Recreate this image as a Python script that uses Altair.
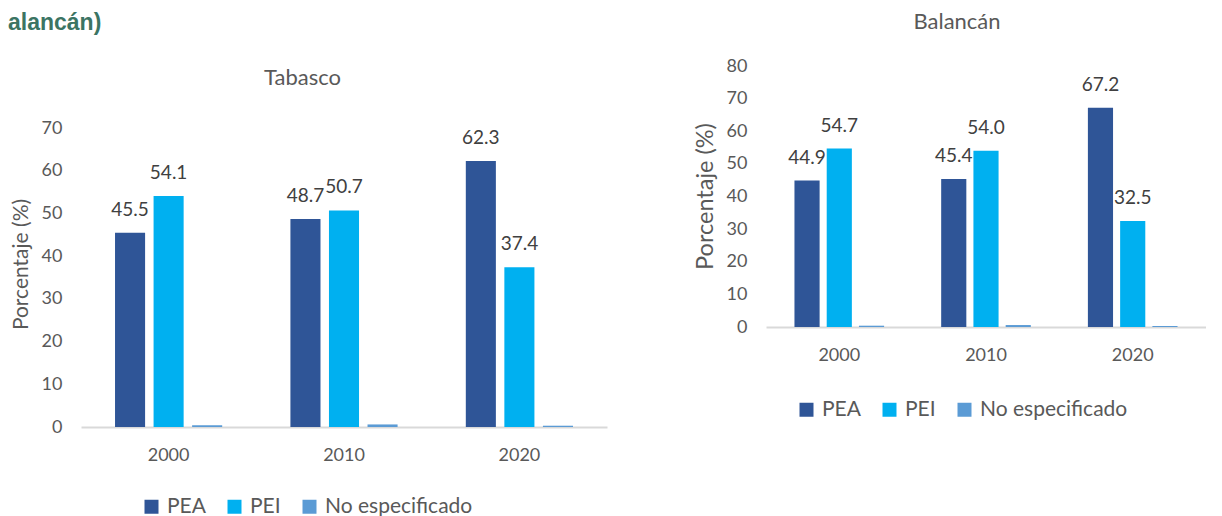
import altair as alt
import pandas as pd

years = ["2000", "2010", "2020"]
series = ["PEA", "PEI", "No especificado"]
colors = ["#2F5597", "#00B0F0", "#5B9BD5"]

tabasco_pea = [45.5, 48.7, 62.3]
tabasco_pei = [54.1, 50.7, 37.4]
tabasco_ne = [0.4, 0.6, 0.3]

balancan_pea = [44.9, 45.4, 67.2]
balancan_pei = [54.7, 54.0, 32.5]
balancan_ne = [0.4, 0.6, 0.3]

heading = "alancán)"
y_title = "Porcentaje (%)"

FONT = "Lato"
GRAY = "#595959"


def make_df(pea, pei, ne):
    rows = []
    for vals, s in zip([pea, pei, ne], series):
        for yr, v in zip(years, vals):
            rows.append({"year": yr, "series": s, "value": v})
    return pd.DataFrame(rows)


def panel(df, name, ymax, width, height, yrange, title_x, title_y, title_size,
          ytitle_size, ytitle_pad, ytitle_y, legend_x, legend_y, extra=None):
    base = alt.Chart(df)
    x_enc = alt.X("year:N", sort=years,
                  scale=alt.Scale(paddingInner=0.389, paddingOuter=0.194),
                  axis=alt.Axis(title=None, labelAngle=0, ticks=False,
                                domainColor="#D9D9D9", domainWidth=2,
                                labelPadding=19, labelFontSize=18,
                                labelFont=FONT, labelColor=GRAY))
    xo_enc = alt.XOffset("series:N", sort=series,
                         scale=alt.Scale(paddingInner=0.22, paddingOuter=0))
    y_scale = alt.Scale(domain=[0, ymax], nice=False, range=yrange)
    y_enc = alt.Y("value:Q", scale=y_scale,
                  axis=alt.Axis(title=y_title, values=list(range(0, ymax + 1, 10)),
                                grid=False, domain=False, ticks=False,
                                labelPadding=19, labelFontSize=18, labelFont=FONT,
                                labelColor=GRAY, titleFont=FONT,
                                titleFontSize=ytitle_size, titleFontWeight="normal",
                                titleColor=GRAY, titlePadding=ytitle_pad,
                                titleY=ytitle_y))
    bars = base.mark_bar().encode(
        x=x_enc, xOffset=xo_enc, y=y_enc,
        color=alt.Color("series:N", sort=series,
                        scale=alt.Scale(domain=series, range=colors),
                        legend=alt.Legend(title=None, orient="none",
                                          legendX=legend_x, legendY=legend_y,
                                          direction="horizontal",
                                          symbolType="square", symbolSize=196,
                                          symbolStrokeWidth=0,
                                          labelFontSize=21, labelFont=FONT,
                                          labelColor=GRAY, labelOffset=5,
                                          columnPadding=18)),
    )
    labels = base.transform_filter(alt.datum.series != "No especificado").mark_text(
        baseline="alphabetic", dy=-17, fontSize=19, font=FONT, color="#404040"
    ).encode(x=x_enc, xOffset=xo_enc, y=y_enc,
             text=alt.Text("value:Q", format=".1f"))
    title = alt.Chart(pd.DataFrame({"t": [name]})).mark_text(
        baseline="top", align="center", fontSize=title_size, font=FONT, color=GRAY
    ).encode(x=alt.value(title_x), y=alt.value(title_y), text="t:N")
    layers = [bars, labels, title]
    if extra is not None:
        layers.append(extra)
    return alt.layer(*layers).properties(width=width, height=height)


head = alt.Chart(pd.DataFrame({"t": [heading]})).mark_text(
    baseline="top", align="left", fontSize=23, font="Liberation Sans",
    fontWeight="bold", color="#3B7463"
).encode(x=alt.value(-73), y=alt.value(-54), text="t:N")

# left panel: plot drawn from y=62 (value 70) to y=361 (value 0) inside a 361px view
left = panel(make_df(tabasco_pea, tabasco_pei, tabasco_ne), "Tabasco", 70,
             526, 361, [361, 62], 221.5, 2, 22, 21, 10, 198, 60, 430, extra=head)
right = panel(make_df(balancan_pea, balancan_pei, balancan_ne), "Balancán", 80,
              440, 261, [261, 0], 191, -54, 22, 23.5, 9, 130, 30, 333)

chart = alt.hconcat(left, right, spacing=86).resolve_scale(
    color="independent", x="independent", y="independent", xOffset="independent"
).resolve_legend(color="independent").properties(
    padding={"top": 3, "left": 0, "right": 0, "bottom": 0}
).configure(background="white").configure_view(stroke="transparent", strokeWidth=0)

chart.save("out.html", embed_options={"renderer": "svg", "actions": False})
